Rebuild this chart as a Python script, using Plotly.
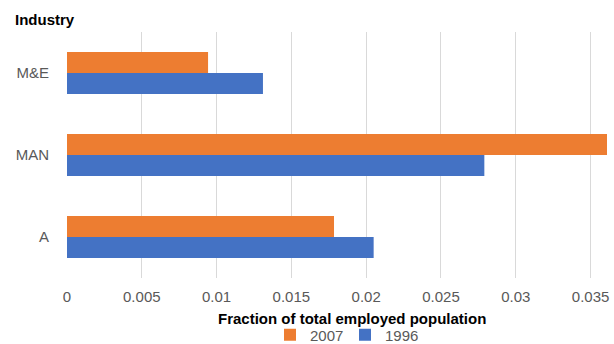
import plotly.graph_objects as go

categories = ["A", "MAN", "M&E"]
values_1996 = [0.0205, 0.0279, 0.0131]
values_2007 = [0.01785, 0.0361, 0.00943]
tick_vals = [0, 0.005, 0.01, 0.015, 0.02, 0.025, 0.03, 0.035]
tick_text = ["0", "0.005", "0.01", "0.015", "0.02", "0.025", "0.03", "0.035"]

fig = go.Figure()
fig.add_trace(go.Bar(y=categories, x=values_1996, name="1996", orientation="h",
                     marker=dict(color="#4472C4", line=dict(width=0))))
fig.add_trace(go.Bar(y=categories, x=values_2007, name="2007", orientation="h",
                     marker=dict(color="#ED7D31", line=dict(width=0))))

fig.update_layout(
    width=614, height=344,
    margin=dict(l=67, r=7, t=32, b=66, autoexpand=False),
    paper_bgcolor="white", plot_bgcolor="white",
    font=dict(family="Liberation Sans, Arial, sans-serif", color="#595959", size=15),
    barmode="group", bargap=0.49, bargroupgap=0,
    showlegend=True,
    legend=dict(orientation="h", x=(270 - 67) / 540, xanchor="left",
                y=-(335 - 278) / 246, yanchor="middle",
                traceorder="reversed", font=dict(size=15, color="#595959"),
                itemwidth=30, entrywidth=30, entrywidthmode="pixels",
                bgcolor="rgba(0,0,0,0)", tracegroupgap=0),
    xaxis=dict(range=[0, 0.0361], tickvals=tick_vals, ticktext=tick_text,
               showgrid=True, gridcolor="#d9d9d9", gridwidth=1, zeroline=False,
               showline=False, ticks="", ticklabelstandoff=8,
               tickfont=dict(size=15, color="#595959")),
    yaxis=dict(categoryorder="array", categoryarray=categories, showgrid=False,
               ticks="", ticklabelstandoff=17, tickfont=dict(size=15, color="#595959")),
)
fig.add_annotation(text="<b>Industry</b>", xref="paper", yref="paper",
                   x=-(67 - 13) / 540, y=1 + 12 / 246, xanchor="left", yanchor="middle",
                   showarrow=False, font=dict(size=15, color="black"))
fig.add_annotation(text="<b>Fraction of total employed population</b>", xref="paper", yref="paper",
                   x=(352 - 67) / 540, y=-(318 - 278) / 246, xanchor="center", yanchor="middle",
                   showarrow=False, font=dict(size=15, color="black"))

fig.write_html("out.html")
